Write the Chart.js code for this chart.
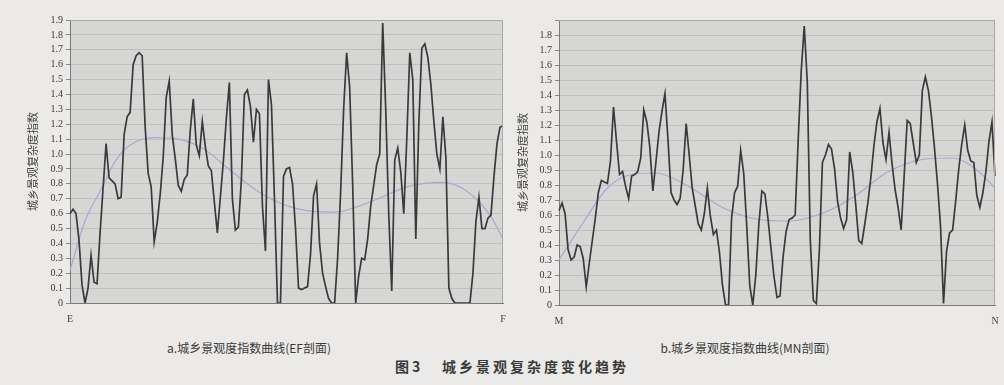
<!DOCTYPE html>
<html>
<head>
<meta charset="utf-8">
<script src="https://cdn.jsdelivr.net/npm/chart.js"></script>
<style>
  body { margin: 0; width: 1004px; height: 385px; overflow: hidden; position: relative;
         background: #ebeae8; font-family: "Noto Sans CJK SC", sans-serif; }
  canvas { position: absolute; top: 0; }
  #ef { left: 0; }
  #mn { left: 510px; }
  .cap { position: absolute; white-space: nowrap; color: #3a3a3a; transform: translateX(-50%); }
  .sub { font-size: 12px; top: 339px; }
  .fig { font-size: 14px; font-weight: bold; top: 356px; left: 512px; letter-spacing: 3px; }
</style>
</head>
<body>
<canvas id="ef" width="510" height="325"></canvas>
<canvas id="mn" width="494" height="325"></canvas>
<div class="cap sub" style="left:249px">a.城乡景观度指数曲线(EF剖面)</div>
<div class="cap sub" style="left:745px">b.城乡景观度指数曲线(MN剖面)</div>
<div class="cap fig">图3&nbsp;&nbsp;&nbsp;城乡景观复杂度变化趋势</div>
<script>
// EF profile, sampled evenly from E to F
const efValues = [
  0.60, 0.63, 0.60, 0.42, 0.12, 0, 0.10, 0.32, 0.14, 0.13,
  0.47, 0.77, 1.07, 0.84, 0.82, 0.80, 0.70, 0.71, 1.13, 1.25,
  1.28, 1.60, 1.66, 1.68, 1.66, 1.18, 0.87, 0.78, 0.41, 0.54,
  0.73, 0.98, 1.38, 1.49, 1.13, 0.97, 0.79, 0.75, 0.83, 0.86,
  1.16, 1.37, 1.06, 0.99, 1.22, 1.05, 0.92, 0.89, 0.68, 0.47,
  0.71, 0.95, 1.24, 1.48, 0.70, 0.49, 0.51, 0.83, 1.40, 1.43,
  1.32, 1.08, 1.30, 1.27, 0.65, 0.35, 1.50, 1.33, 0.70, 0,
  0, 0.85, 0.90, 0.91, 0.80, 0.50, 0.10, 0.09, 0.10, 0.11,
  0.33, 0.72, 0.80, 0.40, 0.20, 0.11, 0.03, 0, 0, 0.30,
  0.74, 1.30, 1.68, 1.45, 0.80, 0, 0.18, 0.30, 0.29, 0.43,
  0.65, 0.79, 0.93, 1.00, 1.88, 1.30, 0.60, 0.08, 0.96, 1.04,
  0.88, 0.60, 1.10, 1.68, 1.50, 0.43, 1.20, 1.71, 1.74, 1.65,
  1.47, 1.22, 1.00, 0.90, 1.25, 0.98, 0.10, 0.03, 0, 0,
  0, 0, 0, 0, 0.20, 0.55, 0.71, 0.50, 0.50, 0.57,
  0.59, 0.85, 1.07, 1.18, 1.19
];
// trend line read at a few sample positions
const efTrendAt = [0, 5, 10, 15, 20, 28, 36, 44, 54, 64, 76, 88, 100, 112, 124, 132, 140, 144];
const efTrend   = [0.22, 0.55, 0.75, 0.95, 1.06, 1.11, 1.10, 1.04, 0.88, 0.73, 0.63, 0.61, 0.68, 0.78, 0.81, 0.75, 0.58, 0.43];

// MN profile, sampled evenly from M to N
const mnValues = [
  0.63, 0.68, 0.61, 0.37, 0.30, 0.32, 0.40, 0.39, 0.31, 0.12,
  0.28, 0.43, 0.58, 0.75, 0.83, 0.82, 0.81, 0.96, 1.32, 1.09,
  0.87, 0.89, 0.79, 0.71, 0.86, 0.87, 0.89, 0.98, 1.30, 1.22,
  1.05, 0.76, 0.95, 1.15, 1.29, 1.41, 1.10, 0.75, 0.70, 0.67,
  0.71, 0.90, 1.21, 1.00, 0.78, 0.66, 0.54, 0.50, 0.61, 0.78,
  0.59, 0.47, 0.50, 0.35, 0.13, 0, 0, 0.58, 0.75, 0.79,
  1.03, 0.88, 0.53, 0.13, 0, 0.20, 0.54, 0.76, 0.74, 0.58,
  0.38, 0.19, 0.05, 0.06, 0.32, 0.49, 0.57, 0.58, 0.60, 1.10,
  1.56, 1.86, 1.49, 0.43, 0.03, 0.01, 0.37, 0.95, 1.00, 1.07,
  1.04, 0.91, 0.69, 0.58, 0.51, 0.57, 1.02, 0.89, 0.67, 0.43,
  0.41, 0.54, 0.68, 0.85, 1.06, 1.22, 1.31, 1.08, 0.97, 1.15,
  0.94, 0.77, 0.65, 0.50, 0.86, 1.23, 1.21, 1.08, 0.95, 1.00,
  1.43, 1.52, 1.43, 1.26, 1.05, 0.81, 0.53, 0.01, 0.36, 0.48,
  0.50, 0.69, 0.90, 1.07, 1.20, 1.03, 0.96, 0.95, 0.73, 0.65,
  0.75, 0.89, 1.09, 1.22, 0.86
];
const mnTrendAt = [0, 8, 16, 24, 32, 42, 54, 66, 76, 88, 98, 108, 120, 130, 138, 144];
const mnTrend   = [0.30, 0.55, 0.78, 0.87, 0.88, 0.80, 0.65, 0.57, 0.56, 0.62, 0.73, 0.88, 0.97, 0.98, 0.90, 0.78];

const yTitle = '城乡景观复杂度指数';
const yMax = 1.9;

const plotBg = {
  id: 'plotBg',
  beforeDraw(chart) {
    const { ctx, chartArea: a } = chart;
    ctx.save();
    ctx.fillStyle = '#d6d6d5';
    ctx.fillRect(a.left, a.top, a.width, a.height);
    ctx.restore();
  },
  afterDraw(chart) {
    const { ctx, chartArea: a } = chart;
    ctx.save();
    ctx.strokeStyle = '#a8a8a8';
    ctx.lineWidth = 1;
    ctx.beginPath();
    ctx.moveTo(a.left, a.top + 0.5);
    ctx.lineTo(a.right - 0.5, a.top + 0.5);
    ctx.lineTo(a.right - 0.5, a.bottom);
    ctx.stroke();
    ctx.restore();
  }
};

function sparse(n, at, vals) {
  const out = new Array(n).fill(null);
  at.forEach((i, j) => { out[i] = vals[j]; });
  return out;
}

function makeChart(id, values, trendAt, trend, ends, o) {
  const n = values.length;
  const labels = values.map((_, i) => i === 0 ? ends[0] : (i === n - 1 ? ends[1] : ''));
  new Chart(document.getElementById(id), {
    type: 'line',
    data: {
      labels: labels,
      datasets: [
        {
          data: values,
          borderColor: '#3a3a3a',
          borderWidth: 1.7,
          pointRadius: 0,
          tension: 0
        },
        {
          data: sparse(n, trendAt, trend),
          borderColor: '#a7a8d4',
          borderWidth: 1.2,
          pointRadius: 0,
          spanGaps: true,
          cubicInterpolationMode: 'monotone'
        }
      ]
    },
    options: {
      responsive: false,
      animation: false,
      layout: { padding: { top: 20, right: o.right, left: 0, bottom: 0 } },
      plugins: { legend: { display: false }, tooltip: { enabled: false } },
      scales: {
        x: {
          type: 'category',
          afterFit: s => { s.height = o.xh; },
          grid: { display: false },
          border: { color: '#7a7a7a' },
          ticks: {
            autoSkip: false, maxRotation: 0, padding: 2,
            color: '#444',
            font: { family: 'Liberation Serif', size: 10 }
          }
        },
        y: {
          min: 0, max: yMax,
          afterFit: s => { s.width = o.yw; },
          border: { color: '#7a7a7a' },
          grid: { color: '#c0c0c0', tickColor: '#888', tickLength: 4 },
          ticks: {
            stepSize: 0.1, padding: 3, autoSkip: false,
            color: '#3a3a3a',
            font: { family: 'Liberation Serif', size: 10 },
            callback: v => {
              if (o.hideTop && Math.abs(v - yMax) < 1e-6) return '';
              return v === 0 ? '0' : v.toFixed(1);
            }
          },
          title: {
            display: true, text: yTitle, color: '#444',
            font: { family: 'Noto Sans CJK SC', size: 11 },
            padding: { top: o.tp, bottom: 0 }
          }
        }
      }
    },
    plugins: [plotBg]
  });
}

makeChart('ef', efValues, efTrendAt, efTrend, ['E', 'F'], { right: 7, xh: 22, yw: 70, tp: 26, hideTop: false });
makeChart('mn', mnValues, mnTrendAt, mnTrend, ['M', 'N'], { right: 9, xh: 20, yw: 49, tp: 6, hideTop: true });
</script>
</body>
</html>
